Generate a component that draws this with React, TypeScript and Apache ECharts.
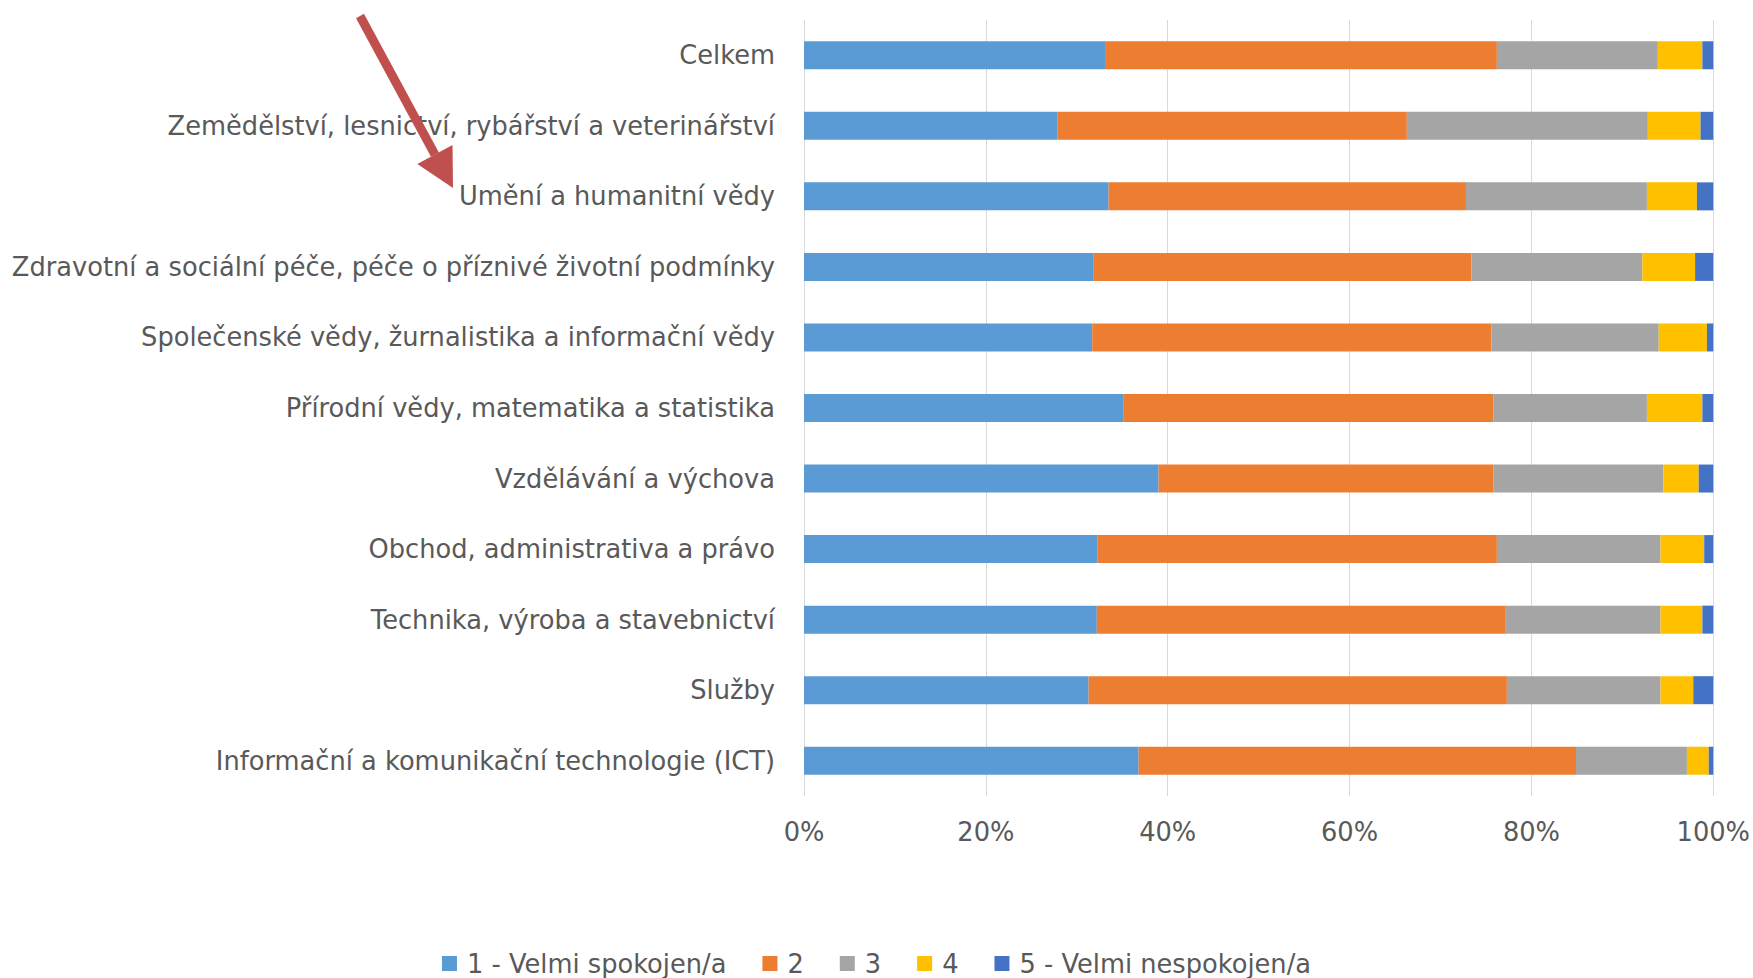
import React, { useEffect, useRef } from "react";
import * as echarts from "echarts";

const categories = [
  "Celkem",
  "Zemědělství, lesnictví, rybářství a veterinářství",
  "Umění a humanitní vědy",
  "Zdravotní a sociální péče, péče o příznivé životní podmínky",
  "Společenské vědy, žurnalistika a informační vědy",
  "Přírodní vědy, matematika a statistika",
  "Vzdělávání a výchova",
  "Obchod, administrativa a právo",
  "Technika, výroba a stavebnictví",
  "Služby",
  "Informační a komunikační technologie (ICT)",
];

const seriesNames = ["1 - Velmi spokojen/a", "2", "3", "4", "5 - Velmi nespokojen/a"];

const s1 = [33.2, 27.9, 33.5, 31.8, 31.7, 35.1, 39.0, 32.3, 32.2, 31.3, 36.8];
const s2 = [43.0, 38.4, 39.3, 41.6, 43.9, 40.7, 36.8, 43.9, 44.9, 46.0, 48.1];
const s3 = [17.7, 26.5, 19.9, 18.8, 18.4, 16.9, 18.7, 18.0, 17.1, 16.9, 12.2];
const s4 = [4.9, 5.8, 5.5, 5.8, 5.3, 6.1, 3.9, 4.8, 4.6, 3.6, 2.4];
const s5 = [1.2, 1.4, 1.8, 2.0, 0.7, 1.2, 1.6, 1.0, 1.2, 2.2, 0.5];

const xTicks = [0, 20, 40, 60, 80, 100];

const colors = ["#5B9BD5", "#ED7D31", "#A5A5A5", "#FFC000", "#4472C4"];
const FONT = "'DejaVu Sans', sans-serif";
const TEXT = "#595959";
const FS = 25.7;

export default function App() {
  const ref = useRef<HTMLDivElement>(null);
  useEffect(() => {
    if (!ref.current) return;
    const chart = echarts.init(ref.current, null, { renderer: "svg" });
    const all = [s1, s2, s3, s4, s5];
    const tail = [360, 16];
    const tip = [453, 188];
    const dx = tip[0] - tail[0];
    const dy = tip[1] - tail[1];
    const len = Math.sqrt(dx * dx + dy * dy);
    const ux = dx / len;
    const uy = dy / len;
    const headLen = 38;
    const headHalf = 20;
    const bx = tip[0] - headLen * ux;
    const by = tip[1] - headLen * uy;
    const px = -uy;
    const py = ux;
    chart.setOption({
      animation: false,
      backgroundColor: "#ffffff",
      textStyle: { fontFamily: FONT },
      grid: { left: 804, right: 38, top: 20, bottom: 182, containLabel: false },
      xAxis: {
        type: "value",
        min: xTicks[0],
        max: xTicks[xTicks.length - 1],
        interval: 20,
        axisLine: { show: false },
        axisTick: { show: false },
        splitLine: { show: true, lineStyle: { color: "#D9D9D9", width: 1 } },
        axisLabel: {
          formatter: "{value}%",
          color: TEXT,
          fontSize: FS,
          fontFamily: FONT,
          margin: 23,
        },
      },
      yAxis: {
        type: "category",
        data: categories,
        inverse: true,
        axisLine: { show: false },
        axisTick: { show: false },
        axisLabel: { color: TEXT, fontSize: FS, fontFamily: FONT, margin: 29 },
      },
      legend: {
        left: "center",
        top: 945,
        itemWidth: 15,
        itemHeight: 15,
        itemGap: 36,
        icon: "rect",
        textStyle: {
          color: TEXT,
          fontSize: FS,
          fontFamily: FONT,
          lineHeight: 27,
          padding: [0, 0, 0, 5],
        },
        data: seriesNames,
      },
      series: seriesNames.map((name, i) => ({
        name,
        type: "bar",
        stack: "total",
        barWidth: 28,
        itemStyle: { color: colors[i] },
        data: all[i],
      })),
      graphic: [
        {
          type: "line",
          shape: { x1: tail[0], y1: tail[1], x2: bx, y2: by },
          style: { stroke: "#C0504D", lineWidth: 9 },
          z: 100,
        },
        {
          type: "polygon",
          shape: {
            points: [
              [tip[0], tip[1]],
              [bx + headHalf * px, by + headHalf * py],
              [bx - headHalf * px, by - headHalf * py],
            ],
          },
          style: { fill: "#C0504D" },
          z: 100,
        },
      ],
    });
    return () => chart.dispose();
  }, []);
  return (
    <div
      ref={ref}
      style={{ position: "fixed", left: 0, top: 0, width: 1753, height: 978 }}
    />
  );
}
